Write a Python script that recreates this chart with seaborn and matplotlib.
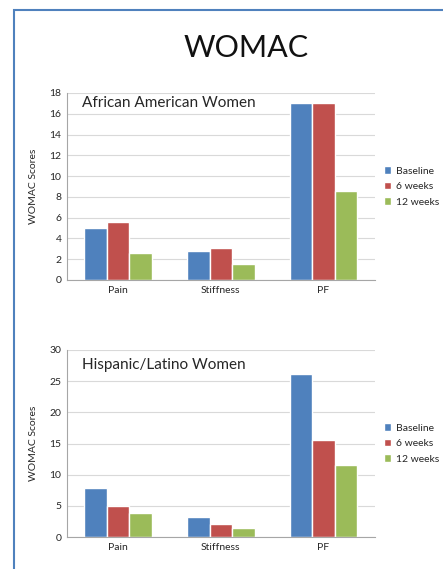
import pandas as pd
import seaborn as sns
import matplotlib.pyplot as plt
from matplotlib.patches import Rectangle

# Datos del gráfico
categories = ["Pain", "Stiffness", "PF"]
periods = ["Baseline", "6 weeks", "12 weeks"]
aa_baseline = [5.0, 2.8, 17.0]
aa_6weeks = [5.6, 3.1, 17.0]
aa_12weeks = [2.6, 1.5, 8.6]
hl_baseline = [7.9, 3.2, 26.2]
hl_6weeks = [4.9, 2.1, 15.5]
hl_12weeks = [3.8, 1.4, 11.5]
colors = ["#4F81BD", "#C0504D", "#9BBB59"]


def make_df(series):
    rows = []
    for period, values in zip(periods, series):
        for cat, v in zip(categories, values):
            rows.append({"cat": cat, "period": period, "score": v})
    return pd.DataFrame(rows)


df_aa = make_df([aa_baseline, aa_6weeks, aa_12weeks])
df_hl = make_df([hl_baseline, hl_6weeks, hl_12weeks])

sns.set_style("white")
plt.rcParams["font.family"] = ["Lato", "DejaVu Sans"]

fig = plt.figure(figsize=(4.43, 5.69), dpi=100)

# Marco azul
fig.patches.append(Rectangle((14 / 443, -0.1), 1.2, 1 - 10 / 569 + 0.1,
                             transform=fig.transFigure, fill=False,
                             edgecolor="#4F81BD", linewidth=1.5))

fig.text(246 / 443, 1 - 48 / 569, "WOMAC", ha="center", va="center",
         fontsize=22, color="#111111")

panels = [
    (df_aa, [0.151, 0.508, 0.695, 0.3286], 18, 2, "African American Women", 0.946),
    (df_hl, [0.151, 0.0562, 0.695, 0.3287], 30, 5, "Hispanic/Latino Women", 0.92),
]

for df, pos, ymax, step, subtitle, sy in panels:
    ax = fig.add_axes(pos)
    sns.barplot(data=df, x="cat", y="score", hue="period", palette=colors,
                width=0.66, gap=0, saturation=1, ax=ax, legend=True)
    ax.set_ylim(0, ymax)
    ax.set_yticks(range(0, ymax + 1, step))
    ax.set_xlim(-0.5, 2.5)
    ax.yaxis.grid(True, color="#D9D9D9", linewidth=0.8)
    ax.set_axisbelow(True)
    for s in ["top", "right"]:
        ax.spines[s].set_visible(False)
    for s in ["left", "bottom"]:
        ax.spines[s].set_color("#A6A6A6")
        ax.spines[s].set_linewidth(0.8)
    ax.set_xlabel("")
    ax.set_ylabel("WOMAC Scores", fontsize=7.5, labelpad=8)
    ax.tick_params(axis="both", labelsize=7.5, length=0, pad=4)
    ax.set_xticks([0, 1, 2])
    ax.set_xticks([0.5, 1.5], minor=True)
    ax.tick_params(axis="x", which="minor", length=4, color="#A6A6A6", direction="out")
    ax.text(0.049, sy, subtitle, transform=ax.transAxes, ha="left", va="center",
            fontsize=11)
    leg = ax.legend(loc="center left", bbox_to_anchor=(1.0, 0.5), frameon=False,
                    fontsize=7.5, handlelength=0.7, handleheight=0.7,
                    handletextpad=0.4, labelspacing=0.6)

plt.savefig("out.png", dpi=100)
